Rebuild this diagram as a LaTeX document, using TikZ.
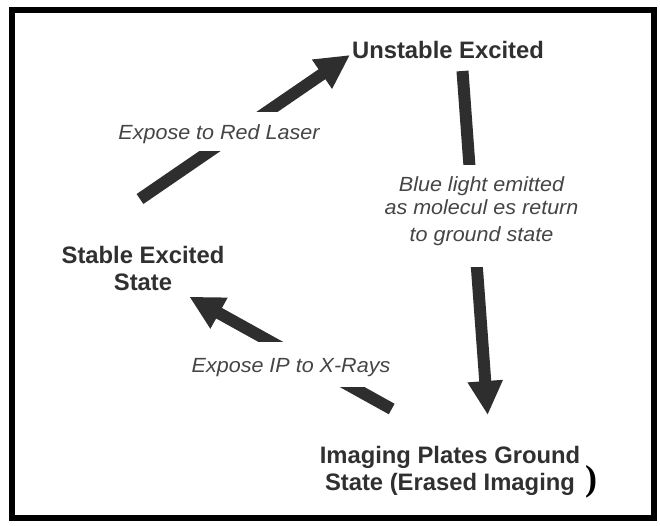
\documentclass[tikz,border=0pt]{standalone}
\usepackage{fontspec}
\setmainfont{Liberation Sans}
\newfontfamily\parenfont{Liberation Serif}
\newfontfamily\notefont[FakeStretch=1.05]{Liberation Sans}
\usetikzlibrary{arrows.meta}

\definecolor{arrowgray}{HTML}{2E2E2E}
\definecolor{titlegray}{HTML}{303030}
\definecolor{notegray}{HTML}{454545}

\begin{document}
\begin{tikzpicture}[x=1pt,y=-1pt,
  flow/.style={line width=12pt, draw=arrowgray,
    -{Triangle[length=34pt,width=33pt]}},
  statetext/.style={text=titlegray, inner sep=0pt,
    font=\fontsize{23.8}{27}\selectfont\bfseries},
  notetext/.style={text=notegray, fill=white, inner xsep=2pt, inner ysep=0pt,
    font=\notefont\itshape\fontsize{20.5}{23}\selectfont}]

% canvas and frame
\useasboundingbox (0,0) rectangle (660,525);
\fill[white] (0,0) rectangle (660,525);
\draw[line width=6pt] (12,10) rectangle (654,518);

% states
\node[statetext, anchor=base] (unstable) at (448,58) {Unstable Excited};
\node[statetext, align=center] (stable) at (143,268.5) {Stable Excited\\State};
\node[statetext, align=center] (ground) at (450,470.5) {Imaging Plates Ground\\State (Erased Imaging};
\node[anchor=base west, inner sep=0pt, text=black,
  font=\parenfont\bfseries\fontsize{36}{36}\selectfont] (paren) at (585,490) {)};

% arrow end points
\coordinate (laserTail) at (140,199);
\coordinate (laserTip) at (350,55);
\coordinate (blueTail) at (462.5,71);
\coordinate (blueTip) at (487.7,415);
\coordinate (xrayTail) at (391.7,409);
\coordinate (xrayTip) at (189.3,296.7);

% transitions
\draw[flow] (laserTail) -- (laserTip);
\draw[flow] (blueTail) -- (blueTip);
\draw[flow] (xrayTail) -- (xrayTip);

% transition labels, set over the shafts
\node[notetext, anchor=base, text height=27.6pt, text depth=11.7pt]
  (laser) at (219,139.3) {Expose to Red Laser};
\node[notetext, anchor=base, text height=30.3pt, text depth=14.7pt]
  (xray) at (291,372) {Expose IP to X-Rays};
\node[notetext, align=center, minimum height=102pt]
  (blue) at (481.5,215.5) {Blue light emitted\\as molecul es return\\[4pt]to ground state\rule[-12pt]{0pt}{0pt}};
\end{tikzpicture}
\end{document}
